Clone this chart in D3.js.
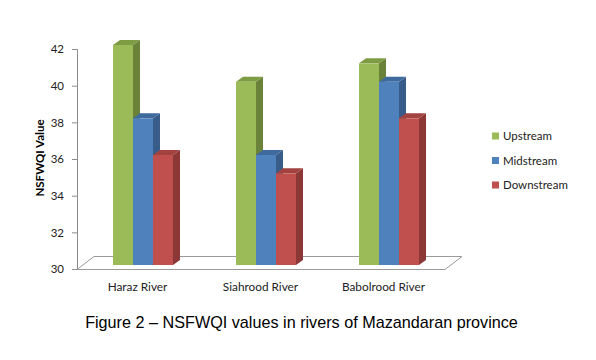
<!DOCTYPE html>
<html>
<head>
<meta charset="utf-8">
<script src="https://cdn.jsdelivr.net/npm/d3@7"></script>
<style>
  html, body { margin: 0; padding: 0; background: #fff; }
  svg { display: block; }
</style>
</head>
<body>
<svg id="chart" width="596" height="360"></svg>
<script>
const categories = ["Haraz River", "Siahrood River", "Babolrood River"];
const seriesNames = ["Upstream", "Midstream", "Downstream"];
const upstream = [42, 40, 41];
const midstream = [38, 36, 40];
const downstream = [36, 35, 38];
const yTicks = [30, 32, 34, 36, 38, 40, 42];
const yTitle = "NSFWQI Value";
const caption = "Figure 2 \u2013 NSFWQI values in rivers of Mazandaran province";

const seriesValues = [upstream, midstream, downstream];
const colors = {
  front: ["#9BBB59", "#4F81BD", "#C0504D"],
  side:  ["#6A8339", "#385D8A", "#8C3836"],
  top:   ["#7E9C44", "#3F6A9E", "#A34340"]
};

const svg = d3.select("#chart");
const font = "Lato, 'Open Sans', sans-serif";

const y = d3.scaleLinear().domain([30, 42]).range([269, 49]);
const x0 = d3.scaleBand().domain(categories).range([81.5, 450.5]);
const groupW = 60;
const x1 = d3.scaleBand().domain(seriesNames).range([0, groupW]);
const dx = 7, dy = -5, lift = 4;

// floor
const floorG = svg.append("g").attr("stroke", "#9a9a9a").attr("fill", "none").attr("stroke-width", 1);
floorG.append("path").attr("d", "M77,269.5 L445,269.5 L462,256.5 L94,256.5 Z");

// y axis
const axisG = svg.append("g").attr("transform", "translate(77,0)");
axisG.call(d3.axisLeft(y).tickValues(yTicks).tickSize(5).tickPadding(8).tickFormat(d3.format("d")));
axisG.select(".domain").attr("stroke", "#8c8c8c");
axisG.selectAll(".tick line").attr("stroke", "#8c8c8c");
axisG.selectAll(".tick text").attr("font-family", font).attr("font-size", 11.5).attr("fill", "#222");

// y title
svg.append("text")
  .attr("transform", "translate(41,158) rotate(-90)")
  .attr("text-anchor", "middle")
  .attr("dominant-baseline", "middle")
  .attr("font-family", font).attr("font-weight", "bold").attr("font-size", 11.5)
  .attr("fill", "#000")
  .text(yTitle);

// bars
const bars = [];
categories.forEach((c, ci) => {
  seriesNames.forEach((s, si) => {
    bars.push({ c, s, si, v: seriesValues[si][ci] });
  });
});
const barG = svg.append("g");
const groupOffset = (x0.bandwidth() - groupW) / 2;
bars.forEach(b => {
  const xl = x0(b.c) + groupOffset + x1(b.s);
  const xr = xl + x1.bandwidth();
  const yt = y(b.v) - lift;
  const yb = y(30) - lift;
  const g = barG.append("g");
  g.append("path")
    .attr("d", `M${xr},${yt} L${xr + dx},${yt + dy} L${xr + dx},${yb + dy} L${xr},${yb} Z`)
    .attr("fill", colors.side[b.si]);
  g.append("path")
    .attr("d", `M${xl},${yt} L${xl + dx},${yt + dy} L${xr + dx},${yt + dy} L${xr},${yt} Z`)
    .attr("fill", colors.top[b.si]);
  g.append("rect")
    .attr("x", xl).attr("y", yt)
    .attr("width", xr - xl).attr("height", yb - yt)
    .attr("fill", colors.front[b.si]);
});

// category labels
svg.append("g").selectAll("text").data(categories).join("text")
  .attr("x", d => x0(d) + x0.bandwidth() / 2 - 5.5)
  .attr("y", 291)
  .attr("text-anchor", "middle")
  .attr("font-family", font).attr("font-size", 11.8)
  .attr("fill", "#222")
  .text(d => d);

// legend
const legend = svg.append("g");
const legendY = d3.scalePoint().domain(seriesNames).range([136, 185]);
seriesNames.forEach((s, i) => {
  legend.append("rect")
    .attr("x", 492).attr("y", legendY(s) - 3.5)
    .attr("width", 7).attr("height", 7)
    .attr("fill", colors.front[i]);
  legend.append("text")
    .attr("x", 503).attr("y", legendY(s) + 4)
    .attr("font-family", font).attr("font-size", 11.5)
    .attr("fill", "#222")
    .text(s);
});

// caption
svg.append("text")
  .attr("x", 301.5).attr("y", 328)
  .attr("text-anchor", "middle")
  .attr("font-family", "'Liberation Sans', Arial, sans-serif")
  .attr("font-size", 16.2)
  .attr("fill", "#000")
  .text(caption);
</script>
</body>
</html>
